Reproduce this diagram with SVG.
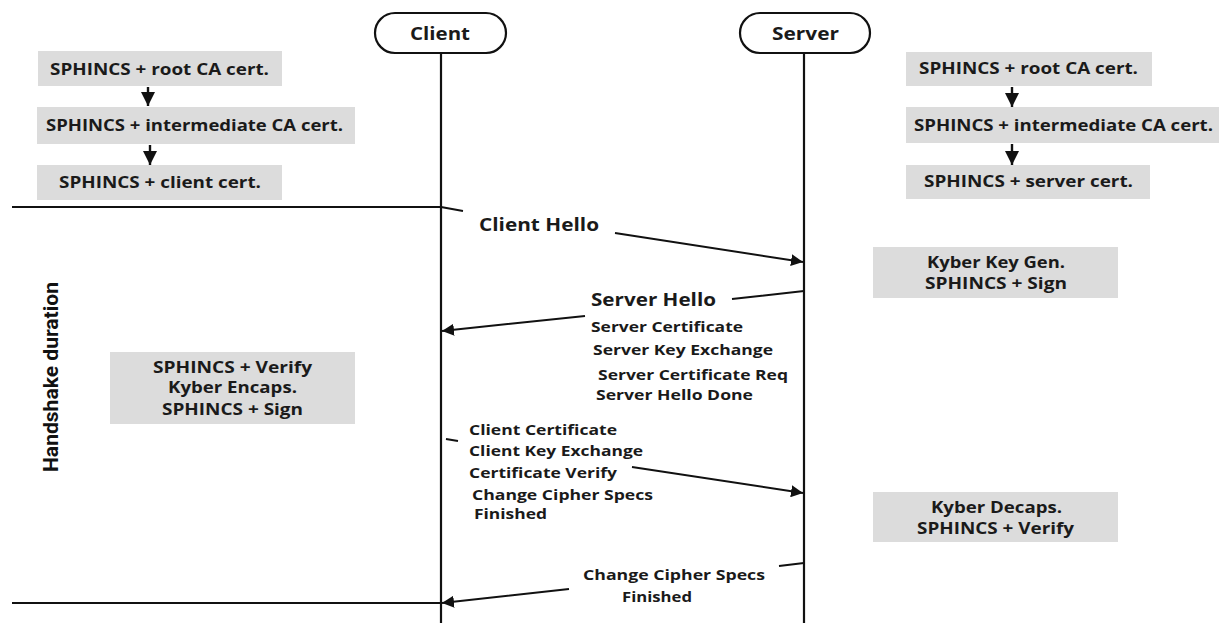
<svg xmlns="http://www.w3.org/2000/svg" width="1220" height="623" viewBox="0 0 1220 623">
<style>
  .box { fill: #dcdcdc; stroke: none; }
  .pill { fill: #ffffff; stroke: #111; stroke-width: 2.2; }
  .life { stroke: #111; stroke-width: 2.2; fill: none; }
  .rule { stroke: #111; stroke-width: 2; fill: none; }
  .msg { stroke: #111; stroke-width: 2; fill: none; marker-end: url(#ah); }
  .chain { stroke: #111; stroke-width: 2.4; fill: none; marker-end: url(#ah); }
  text { font-family: "Open Sans", "Liberation Sans", sans-serif; font-weight: 700; fill: #1a1a1a; }
  .t16 { font-size: 16px; }
  .t15 { font-size: 15px; }
  .t17 { font-size: 17px; }
  .t18 { font-size: 18px; }
  .side { font-family: Roboto, "Liberation Sans", sans-serif; font-weight: 700; font-size: 21px; fill: #111; }
</style>
<defs>
  <marker id="ah" viewBox="0 0 10 10" refX="10" refY="5" markerWidth="6" markerHeight="6" orient="auto" markerUnits="strokeWidth">
    <path d="M0,0 L10,5 L0,10 Z" fill="#111"/>
  </marker>
</defs>

<!-- Lifelines / participants -->
<g id="client">
  <rect class="pill" x="375" y="13" width="131" height="40" rx="20"/>
  <text class="t17" x="410" y="40" textLength="60" lengthAdjust="spacingAndGlyphs">Client</text>
  <line class="life" x1="441" y1="53" x2="441" y2="623"/>
</g>
<g id="server">
  <rect class="pill" x="740" y="13" width="130" height="40" rx="20"/>
  <text class="t17" x="772" y="40" textLength="67" lengthAdjust="spacingAndGlyphs">Server</text>
  <line class="life" x1="804" y1="53" x2="804" y2="623"/>
</g>

<!-- Client certificate chain -->
<g id="client-root">
  <rect class="box" x="38" y="51" width="244" height="35"/>
  <text class="t16" x="50" y="75" textLength="219" lengthAdjust="spacingAndGlyphs">SPHINCS + root CA cert.</text>
</g>
<g id="client-inter">
  <rect class="box" x="37" y="107" width="318" height="37"/>
  <text class="t16" x="46" y="131" textLength="297" lengthAdjust="spacingAndGlyphs">SPHINCS + intermediate CA cert.</text>
</g>
<g id="client-cert">
  <rect class="box" x="37" y="165" width="245" height="35"/>
  <text class="t16" x="59" y="188" textLength="202" lengthAdjust="spacingAndGlyphs">SPHINCS + client cert.</text>
</g>

<!-- Server certificate chain -->
<g id="server-root">
  <rect class="box" x="906" y="52" width="246" height="34"/>
  <text class="t16" x="919" y="74" textLength="219" lengthAdjust="spacingAndGlyphs">SPHINCS + root CA cert.</text>
</g>
<g id="server-inter">
  <rect class="box" x="906" y="107" width="313" height="36"/>
  <text class="t16" x="914" y="131" textLength="299" lengthAdjust="spacingAndGlyphs">SPHINCS + intermediate CA cert.</text>
</g>
<g id="server-cert">
  <rect class="box" x="906" y="165" width="244" height="34"/>
  <text class="t16" x="924" y="187" textLength="209" lengthAdjust="spacingAndGlyphs">SPHINCS + server cert.</text>
</g>

<!-- Computation boxes -->
<g id="client-compute">
  <rect class="box" x="110" y="352" width="245" height="72"/>
  <text class="t16" x="153" y="373" textLength="159" lengthAdjust="spacingAndGlyphs">SPHINCS + Verify</text>
  <text class="t16" x="168" y="393" textLength="129" lengthAdjust="spacingAndGlyphs">Kyber Encaps.</text>
  <text class="t16" x="162" y="415" textLength="141" lengthAdjust="spacingAndGlyphs">SPHINCS + Sign</text>
</g>
<g id="server-keygen">
  <rect class="box" x="873" y="247" width="245" height="51"/>
  <text class="t16" x="927" y="268" textLength="138" lengthAdjust="spacingAndGlyphs">Kyber Key Gen.</text>
  <text class="t16" x="925" y="289" textLength="142" lengthAdjust="spacingAndGlyphs">SPHINCS + Sign</text>
</g>
<g id="server-decaps">
  <rect class="box" x="873" y="492" width="245" height="50"/>
  <text class="t16" x="931" y="513" textLength="131" lengthAdjust="spacingAndGlyphs">Kyber Decaps.</text>
  <text class="t16" x="917" y="534" textLength="157" lengthAdjust="spacingAndGlyphs">SPHINCS + Verify</text>
</g>

<!-- Handshake duration label -->
<g id="handshake-label">
  <text class="side" transform="translate(58,377) rotate(-90)" x="0" y="0" text-anchor="middle" textLength="190" lengthAdjust="spacingAndGlyphs">Handshake duration</text>
</g>

<!-- Message labels -->
<g id="msg-client-hello">
  <text class="t18" x="479" y="231" textLength="120" lengthAdjust="spacingAndGlyphs">Client Hello</text>
</g>
<g id="msg-server-hello">
  <text class="t18" x="591" y="306" textLength="125" lengthAdjust="spacingAndGlyphs">Server Hello</text>
  <text class="t15" x="591" y="332" textLength="152" lengthAdjust="spacingAndGlyphs">Server Certificate</text>
  <text class="t15" x="593" y="355" textLength="180" lengthAdjust="spacingAndGlyphs">Server Key Exchange</text>
  <text class="t15" x="598" y="380" textLength="190" lengthAdjust="spacingAndGlyphs">Server Certificate Req</text>
  <text class="t15" x="596" y="400" textLength="157" lengthAdjust="spacingAndGlyphs">Server Hello Done</text>
</g>
<g id="msg-client-cert">
  <text class="t15" x="469" y="435" textLength="148" lengthAdjust="spacingAndGlyphs">Client Certificate</text>
  <text class="t15" x="469" y="456" textLength="174" lengthAdjust="spacingAndGlyphs">Client Key Exchange</text>
  <text class="t15" x="469" y="478" textLength="148" lengthAdjust="spacingAndGlyphs">Certificate Verify</text>
  <text class="t15" x="472" y="500" textLength="181" lengthAdjust="spacingAndGlyphs">Change Cipher Specs</text>
  <text class="t15" x="474" y="519" textLength="73" lengthAdjust="spacingAndGlyphs">Finished</text>
</g>
<g id="msg-server-finish">
  <text class="t15" x="583" y="580" textLength="182" lengthAdjust="spacingAndGlyphs">Change Cipher Specs</text>
  <text class="t15" x="622" y="602" textLength="70" lengthAdjust="spacingAndGlyphs">Finished</text>
</g>

<!-- Connectors -->
<g id="connectors">
  <line class="rule" x1="12" y1="207" x2="441" y2="207"/>
  <line class="rule" x1="12" y1="603" x2="441" y2="603"/>
  <line class="chain" x1="148" y1="87" x2="148" y2="106"/>
  <line class="chain" x1="150" y1="145" x2="150" y2="165"/>
  <line class="chain" x1="1012" y1="87" x2="1012" y2="107"/>
  <line class="chain" x1="1012" y1="144" x2="1012" y2="165"/>
  <path class="msg" d="M441 207 L463 211 M615 233 L803 262"/>
  <path class="msg" d="M804 291 L732 299 M585 316 L442 331"/>
  <path class="msg" d="M446 439 L458 441 M632 467 L803 493"/>
  <path class="msg" d="M804 563 L779 566 M569 589 L442 603"/>
</g>
</svg>
